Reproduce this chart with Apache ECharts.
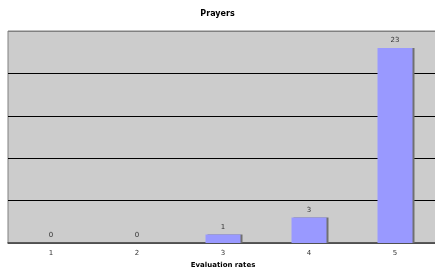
<!DOCTYPE html>
<html>
<head>
<meta charset="utf-8">
<script src="https://cdn.jsdelivr.net/npm/echarts@6/dist/echarts.min.js"></script>
<style>
  html, body { margin: 0; padding: 0; background: #fff; }
  #chart { width: 435px; height: 267px; }
</style>
</head>
<body>
<div id="chart"></div>
<script>
  const categories = ['1', '2', '3', '4', '5'];
  const counts = [0, 0, 1, 3, 23];

  const chart = echarts.init(document.getElementById('chart'));
  const font = 'Verdana, "DejaVu Sans", sans-serif';

  chart.setOption({
    animation: false,
    title: {
      text: 'Prayers',
      left: 'center',
      top: 5,
      textStyle: { fontSize: 8, fontWeight: 'bold', color: '#000', fontFamily: font },
    },
    grid: {
      left: 8,
      right: -3,
      top: 31,
      bottom: 24,
      outerBoundsMode: 'none',
      show: true,
      backgroundColor: '#cccccc',
      borderColor: '#808080',
      borderWidth: 1,
    },
    xAxis: {
      type: 'category',
      data: categories,
      name: 'Evaluation rates',
      nameLocation: 'middle',
      nameGap: 18,
      nameTextStyle: { fontSize: 7, fontWeight: 'bold', color: '#000', fontFamily: font },
      axisLine: { lineStyle: { color: '#404040', width: 1.5 } },
      axisTick: { length: 3, lineStyle: { color: '#404040' } },
      axisLabel: { fontSize: 7, color: '#333', margin: 7, fontFamily: font },
    },
    yAxis: {
      type: 'value',
      min: 0,
      max: 25,
      interval: 5,
      axisLabel: { show: false },
      axisLine: { show: false },
      axisTick: { show: false },
      splitLine: {
        lineStyle: { color: ['#808080', '#000', '#000', '#000', '#000', '#808080'], width: 1 },
      },
    },
    series: [
      {
        type: 'bar',
        data: counts,
        barWidth: 35,
        itemStyle: {
          color: '#9999ff',
          shadowColor: '#707070',
          shadowOffsetX: 2,
          shadowOffsetY: 0,
          shadowBlur: 0,
        },
        label: {
          show: true,
          position: 'top',
          distance: 4,
          fontSize: 7,
          color: '#333',
          fontFamily: font,
        },
      },
    ],
  });
</script>
</body>
</html>
